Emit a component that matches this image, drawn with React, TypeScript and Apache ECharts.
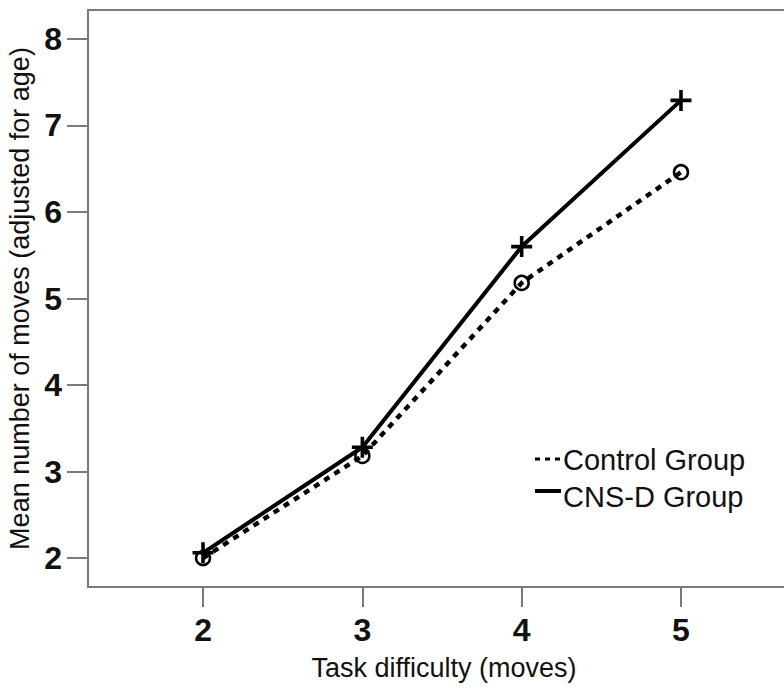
import React, { useEffect, useRef } from "react";
import * as echarts from "echarts";

const difficulty = [2, 3, 4, 5];
const controlValues = [2.0, 3.18, 5.18, 6.46];
const cnsdValues = [2.06, 3.28, 5.6, 7.29];
const seriesNames = ["Control Group", "CNS-D Group"];
const xTicks = [2, 3, 4, 5];
const yTicks = [2, 3, 4, 5, 6, 7, 8];
const xTitle = "Task difficulty (moves)";
const yTitle = "Mean number of moves (adjusted for age)";

const FONT = '"Liberation Sans", Arial, Helvetica, sans-serif';
const AXIS_GRAY = "#7a7a7a";
const PLUS = "path://M8.3,0 H11.7 V8.3 H20 V11.7 H11.7 V20 H8.3 V11.7 H0 V8.3 H8.3 Z";

export default function App() {
  const ref = useRef<HTMLDivElement>(null);
  useEffect(() => {
    if (!ref.current) return;
    const chart = echarts.init(ref.current, undefined, { renderer: "svg" });
    const toPairs = (vals: number[]) => difficulty.map((d, i) => [d, vals[i]]);
    chart.setOption({
      animation: false,
      backgroundColor: "#ffffff",
      textStyle: { fontFamily: FONT },
      grid: {
        left: 88,
        top: 10,
        right: -16,
        bottom: 102,
        outerBoundsMode: "none",
        containLabel: false,
        show: true,
        borderColor: AXIS_GRAY,
        borderWidth: 2,
        backgroundColor: "transparent",
      },
      xAxis: {
        type: "value",
        min: 1.278,
        max: 5.747,
        splitLine: { show: false },
        axisLine: { show: true, lineStyle: { color: AXIS_GRAY, width: 2 } },
        axisTick: { show: true, inside: false, length: 20, lineStyle: { color: AXIS_GRAY, width: 2 }, customValues: xTicks },
        axisLabel: { customValues: xTicks, margin: 27, fontSize: 32, fontWeight: "bold", color: "#111", fontFamily: FONT },
        name: xTitle,
        nameLocation: "middle",
        nameGap: 67,
        nameTextStyle: { fontSize: 27, color: "#111", fontFamily: FONT },
      },
      yAxis: {
        type: "value",
        min: 1.665,
        max: 8.335,
        splitLine: { show: false },
        axisLine: { show: true, lineStyle: { color: AXIS_GRAY, width: 2 } },
        axisTick: { show: true, inside: false, length: 21, lineStyle: { color: AXIS_GRAY, width: 2 }, customValues: yTicks },
        axisLabel: { customValues: yTicks, margin: 26, fontSize: 32, fontWeight: "bold", color: "#111", fontFamily: FONT },
        name: yTitle,
        nameLocation: "middle",
        nameRotate: 90,
        nameGap: 54,
        nameTextStyle: { fontSize: 27, color: "#111", fontFamily: FONT },
      },
      series: [
        {
          name: seriesNames[1],
          type: "line",
          data: toPairs(cnsdValues),
          lineStyle: { color: "#000", width: 4, type: "solid" },
          symbol: PLUS,
          symbolSize: 21,
          itemStyle: { color: "#000" },
          z: 3,
        },
        {
          name: seriesNames[0],
          type: "line",
          data: toPairs(controlValues),
          lineStyle: { color: "#000", width: 4.5, type: [6, 6] },
          symbol: "circle",
          symbolSize: 14,
          itemStyle: { color: "rgba(255,255,255,0)", borderColor: "#000", borderWidth: 2.5 },
          z: 4,
        },
      ],
      graphic: [
        { type: "line", shape: { x1: 535, y1: 459, x2: 561, y2: 459 }, style: { stroke: "#000", lineWidth: 3, lineDash: [5, 5] } },
        { type: "text", x: 563, y: 460, style: { text: seriesNames[0], font: `29px ${FONT}`, fill: "#111", verticalAlign: "middle", align: "left" } },
        { type: "line", shape: { x1: 535, y1: 491, x2: 561, y2: 491 }, style: { stroke: "#000", lineWidth: 4 } },
        { type: "text", x: 563, y: 497, style: { text: seriesNames[1], font: `29px ${FONT}`, fill: "#111", verticalAlign: "middle", align: "left" } },
      ],
    });
    return () => chart.dispose();
  }, []);
  return <div ref={ref} style={{ position: "absolute", left: 0, top: 0, width: 784, height: 689 }} />;
}
